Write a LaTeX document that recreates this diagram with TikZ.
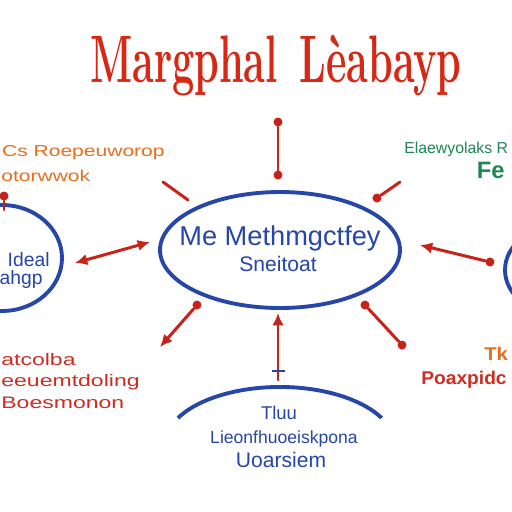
\documentclass[tikz,border=0pt]{standalone}
\usepackage{fontspec}
\setsansfont{Liberation Sans}
\usepackage{tikz}
\usetikzlibrary{shapes.geometric}
\usetikzlibrary{arrows.meta}

\definecolor{inkred}{RGB}{200,35,25}
\definecolor{inkblue}{RGB}{38,70,168}
\definecolor{titlered}{RGB}{214,40,20}
\definecolor{inkorange}{RGB}{232,110,30}
\definecolor{inkgreen}{RGB}{30,135,85}
\definecolor{textred}{RGB}{205,45,35}

\begin{document}
\begin{tikzpicture}[x=0.02cm,y=-0.02cm,
  bubble/.style={draw=inkblue,line width=2.2pt,ellipse,inner sep=0pt},
  ray/.style={draw=inkred,line width=1.7pt,line cap=round},
  headend/.style={-{Latex[length=7pt,width=6.5pt]}},
  headboth/.style={{Latex[length=7pt,width=6.5pt]}-{Latex[length=7pt,width=6.5pt]}},
  dot/.style={circle,fill=inkred,inner sep=0pt,minimum size=0.18cm},
  word/.style={inner sep=0pt}]
  \fill[white] (0,0) rectangle (512,512);
  \clip (0,0) rectangle (512,512);

  \node[word,anchor=base,text=titlered,font=\rmfamily\bfseries\fontsize{22.5}{26}\selectfont] (title) at (276,82) {\scalebox{1}[1.7]{Margphal\hspace{0.55em}Lèabayp}};

  \node[bubble,minimum width=4.8cm,minimum height=2.32cm] (hub) at (280,250) {};
  \node[bubble,minimum width=2.4cm,minimum height=2.12cm] (west) at (2,258) {};
  \node[bubble,minimum width=2.28cm,minimum height=1.8cm] (east) at (562,270) {};
  \draw[draw=inkblue,line width=2.2pt] (178,418) arc[start angle=-152.3,end angle=-27.7,x radius=115,y radius=58];

  \node[word,anchor=base,text=inkblue,font=\sffamily\fontsize{15.5}{18}\selectfont] (hubtop) at (280,245) {Me Methmgctfey};
  \node[word,anchor=base,text=inkblue,font=\sffamily\fontsize{12}{14}\selectfont] (hubbot) at (278,271) {Sneitoat};
  \node[word,anchor=base east,text=inkblue,font=\sffamily\fontsize{11}{13}\selectfont] (westtop) at (50,266) {Ideal};
  \node[word,anchor=base east,text=inkblue,font=\sffamily\fontsize{11}{13}\selectfont] (westbot) at (43,284) {ahgp};

  \node[word,anchor=base east,text=inkorange,font=\sffamily\fontsize{9}{11}\selectfont] (orange1) at (165,156) {\scalebox{1.33}[1]{Cs Roepeuworop}};
  \node[word,anchor=base west,text=inkorange,font=\sffamily\fontsize{9}{11}\selectfont] (orange2) at (1,181) {\scalebox{1.33}[1]{otorwwok}};

  \node[word,anchor=base west,text=inkgreen,font=\sffamily\fontsize{9}{11}\selectfont] (green1) at (404,153) {Elaewyolaks R};
  \node[word,anchor=base east,text=inkgreen,font=\sffamily\bfseries\fontsize{13.5}{16}\selectfont] (green2) at (505,178) {Fe};

  \node[word,anchor=base west,text=textred,font=\sffamily\fontsize{9.5}{11}\selectfont] (redA) at (1,365) {\scalebox{1.38}[1]{atcolba}};
  \node[word,anchor=base west,text=textred,font=\sffamily\fontsize{9.5}{11}\selectfont] (redB) at (1,386) {\scalebox{1.38}[1]{eeuemtdoling}};
  \node[word,anchor=base west,text=textred,font=\sffamily\fontsize{9.5}{11}\selectfont] (redC) at (1,408) {\scalebox{1.38}[1]{Boesmonon}};

  \node[word,anchor=base west,text=inkorange,font=\sffamily\bfseries\fontsize{10.5}{12}\selectfont] (tkA) at (484,360) {\scalebox{1.1}[1]{Tk}};
  \node[word,anchor=base west,text=textred,font=\sffamily\bfseries\fontsize{10.5}{12}\selectfont] (tkB) at (421,384) {\scalebox{1.04}[1]{Poaxpidc}};

  \node[word,anchor=base,text=inkblue,font=\sffamily\fontsize{10.5}{12}\selectfont] (lowA) at (279,419) {Tluu};
  \node[word,anchor=base,text=inkblue,font=\sffamily\fontsize{10}{12}\selectfont] (lowB) at (284,443) {Lieonfhuoeiskpona};
  \node[word,anchor=base,text=inkblue,font=\sffamily\fontsize{12}{14}\selectfont] (lowC) at (281,467) {Uoarsiem};

  \node[dot] (n1) at (278,122) {};
  \node[dot] (n2) at (278,175) {};
  \draw[ray] (n1) -- (n2);

  \coordinate (nw1) at (163,182);
  \coordinate (nw2) at (188,200);
  \draw[ray] (nw1) -- (nw2);

  \node[dot] (ne1) at (377,198) {};
  \coordinate (ne2) at (400,182);
  \draw[ray] (ne1) -- (ne2);

  \coordinate (w1) at (150,242);
  \coordinate (w2) at (75,263);
  \draw[ray,headboth] (w1) -- (w2);

  \node[dot] (e1) at (490,262) {};
  \coordinate (e2) at (420,245);
  \draw[ray,headend] (e1) -- (e2);

  \node[dot] (sw1) at (197,305) {};
  \coordinate (sw2) at (160,347);
  \draw[ray,headend] (sw1) -- (sw2);

  \node[dot] (se1) at (365,305) {};
  \node[dot] (se2) at (402,345) {};
  \draw[ray] (se1) -- (se2);

  \coordinate (s1) at (278,380);
  \coordinate (s2) at (278,313);
  \draw[ray,headend] (s1) -- (s2);
  \draw[draw=inkblue,line width=1.4pt] (272,371) -- (285,371);

  \node[dot] (wn1) at (4,196) {};
  \coordinate (wn2) at (4,210);
  \draw[ray] (wn1) -- (wn2);
\end{tikzpicture}
\end{document}
